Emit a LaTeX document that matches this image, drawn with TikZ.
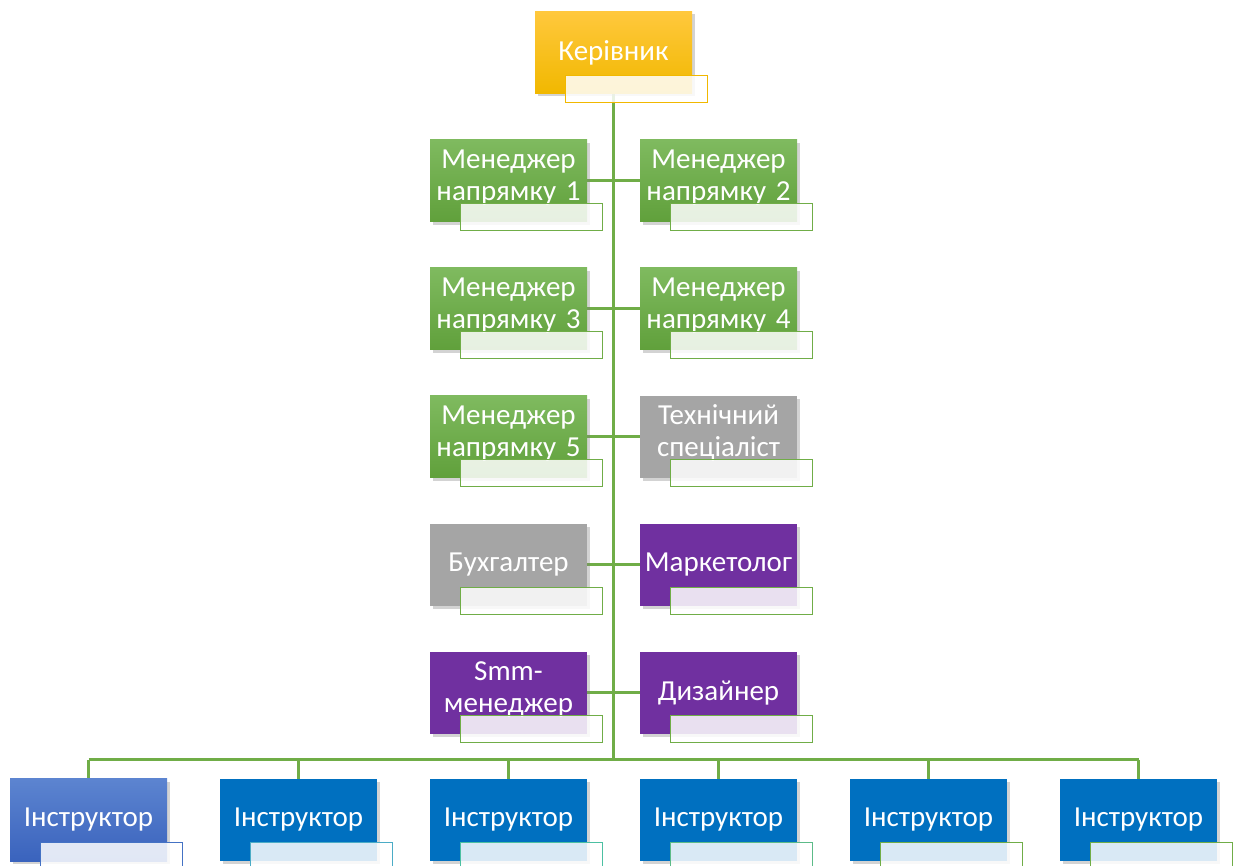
\documentclass[tikz,border=0pt]{standalone}
\usepackage{fontspec}
\setmainfont{Carlito}
\usetikzlibrary{positioning, shadows, backgrounds}

\definecolor{linegreen}{HTML}{70AD47}
\definecolor{bossA}{HTML}{FFC83D}
\definecolor{bossB}{HTML}{F1B800}
\definecolor{mgrA}{HTML}{7FBA5F}
\definecolor{mgrB}{HTML}{60A03B}
\definecolor{techgray}{HTML}{A5A5A5}
\definecolor{violet}{HTML}{7030A0}
\definecolor{instblue}{HTML}{0070C0}
\definecolor{instA}{HTML}{5C84D0}
\definecolor{instB}{HTML}{3A63BD}

\tikzset{
  post/.style={minimum width=157pt, minimum height=82pt, text width=157pt, align=center,
    inner sep=0pt, text=white, font=\fontsize{29}{32}\selectfont,
    drop shadow={shadow xshift=3pt, shadow yshift=-3pt, opacity=0.35}},
  twoline/.style={text depth=44pt},
  boss/.style={post, top color=bossA, bottom color=bossB},
  mgr/.style={post, twoline, top color=mgrA, bottom color=mgrB},
  tech/.style={post, fill=techgray},
  promo/.style={post, fill=violet},
  inst/.style={post, fill=instblue},
  note/.style={draw=#1, line width=1pt, fill=white, fill opacity=0.85,
    minimum width=142pt, minimum height=27pt, inner sep=0pt},
  note/.default=linegreen,
  link/.style={linegreen, line width=3pt}
}

\begin{document}
\begin{tikzpicture}[x=1pt, y=1pt]
\useasboundingbox (0,0) rectangle (1237,865);

% head
\node[boss] (head) at (613.5,812.5) {Керівник};
\node[note=bossB, anchor=north east] (head-n) at ([shift={(16,19)}]head.south east) {};

% left and right columns
\node[mgr] (l1) at (508.5,684) {Менеджер\\напрямку 1};
\node[mgr] (r1) at (718.5,684) {Менеджер\\напрямку 2};
\node[mgr] (l2) at (508.5,556) {Менеджер\\напрямку 3};
\node[mgr] (r2) at (718.5,556) {Менеджер\\напрямку 4};
\node[mgr] (l3) at (508.5,428) {Менеджер\\напрямку 5};
\node[tech, twoline] (r3) at (718.5,428) {Технічний\\спеціаліст};
\node[tech] (l4) at (508.5,300) {Бухгалтер};
\node[promo] (r4) at (718.5,300) {Маркетолог};
\node[promo, twoline] (l5) at (508.5,172) {Smm-\\менеджер};
\node[promo] (r5) at (718.5,172) {Дизайнер};
\foreach \i in {1,...,5} {
  \node[note, anchor=north east] (l\i-n) at ([shift={(16,19)}]l\i.south east) {};
  \node[note, anchor=north east] (r\i-n) at ([shift={(16,19)}]r\i.south east) {};
}

% instructors
\node[post, top color=instA, bottom color=instB] (i1) at (88.5,45) {Інструктор};
\foreach \k/\x in {2/298.5, 3/508.5, 4/718.5, 5/928.5, 6/1138.5}
  \node[inst] (i\k) at (\x,45) {Інструктор};
\foreach \k/\c in {1/4472C4, 2/4BACC6, 3/4CC0A2, 4/5CBB88, 5/70AD47, 6/70AD47} {
  \definecolor{edge}{HTML}{\c}
  \node[note=edge, anchor=north east] (i\k-n) at ([shift={(16,19)}]i\k.south east) {};
}

\coordinate (bus) at (613.5,105);

\begin{scope}[on background layer]
\draw[link] (head.south) -- (bus);
\foreach \i in {1,...,5} \draw[link] (l\i.east) -- (r\i.west);
\draw[link] (i1.north |- bus) -- (i6.north |- bus);
\foreach \k in {1,...,6} \draw[link] (i\k.north) -- (i\k.north |- bus);
\end{scope}
\end{tikzpicture}
\end{document}
